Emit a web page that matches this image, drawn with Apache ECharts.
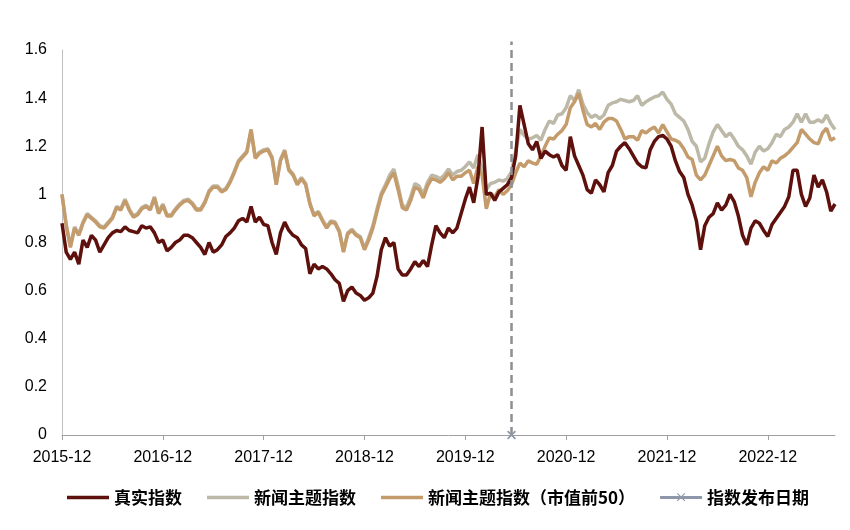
<!DOCTYPE html>
<html>
<head>
<meta charset="utf-8">
<script src="https://cdn.jsdelivr.net/npm/echarts/dist/echarts.min.js"></script>
<style>
html,body{margin:0;padding:0;background:#fff;}
#chart{width:850px;height:530px;}
</style>
</head>
<body>
<div id="chart"></div>
<script>
// x positions: half-month steps from 2015-12-01 to 2023-08-01
const startYear = 2015, startMonth = 12, monthCount = 92;
const categories = [];
for (let m = 0; m <= monthCount; m++) {
  const t = startMonth - 1 + m;
  const y = startYear + Math.floor(t / 12);
  const mm = String(t % 12 + 1).padStart(2, '0');
  categories.push(y + '-' + mm + '-01');
  if (m < monthCount) categories.push(y + '-' + mm + '-16');
}
const tickLabels = ['2015-12','2016-12','2017-12','2018-12','2019-12','2020-12','2021-12','2022-12'];
const publishDate = '2020-05-16';

const seriesNames = ['真实指数','新闻主题指数','新闻主题指数（市值前50）','指数发布日期'];

const realIndex = [
 0.88,0.76,0.73,0.76,0.71,0.81,0.78,0.83,0.81,0.76,0.79,0.82,0.84,0.85,0.845,0.865,0.85,0.845,0.84,0.87,0.86,0.865,0.84,0.80,0.81,
 0.765,0.78,0.80,0.81,0.83,0.83,0.82,0.80,0.78,0.75,0.80,0.76,0.77,0.79,0.825,0.84,0.86,0.89,0.90,0.885,0.95,0.885,0.905,0.875,
 0.87,0.80,0.75,0.84,0.885,0.85,0.83,0.82,0.79,0.775,0.67,0.71,0.69,0.70,0.69,0.67,0.645,0.63,0.555,0.60,0.615,0.59,0.58,0.56,
 0.57,0.59,0.66,0.77,0.82,0.785,0.80,0.69,0.665,0.665,0.69,0.72,0.70,0.725,0.70,0.79,0.87,0.84,0.82,0.86,0.84,0.86,0.92,0.98,
 1.03,0.965,1.07,1.28,1.0,1.005,0.975,1.01,1.025,1.04,1.07,1.16,1.37,1.29,1.21,1.185,1.22,1.15,1.18,1.165,1.155,1.165,1.12,1.10,
 1.24,1.16,1.12,1.08,1.02,1.005,1.06,1.04,1.01,1.09,1.12,1.18,1.20,1.215,1.19,1.16,1.13,1.115,1.11,1.185,1.22,1.24,1.245,1.23,
 1.20,1.14,1.095,1.07,1.0,0.955,0.89,0.77,0.87,0.905,0.92,0.965,0.935,0.955,1.0,0.97,0.91,0.83,0.79,0.86,0.89,0.88,0.85,0.825,
 0.875,0.90,0.925,0.95,0.99,1.10,1.10,1.0,0.95,0.985,1.08,1.03,1.06,1.01,0.93,0.96
];

const newsIndex = [
 1.0,0.875,0.785,0.865,0.835,0.885,0.92,0.905,0.89,0.87,0.865,0.885,0.905,0.95,0.94,0.98,0.94,0.91,0.92,0.945,0.955,0.94,0.99,0.925,0.96,
 0.915,0.915,0.94,0.96,0.975,0.98,0.965,0.94,0.94,0.97,1.015,1.035,1.035,1.015,1.025,1.055,1.095,1.14,1.16,1.18,1.265,1.155,1.175,1.185,
 1.19,1.155,1.045,1.145,1.185,1.105,1.085,1.045,1.07,1.045,0.965,0.915,0.93,0.895,0.865,0.89,0.885,0.85,0.765,0.84,0.855,0.835,0.825,0.775,
 0.82,0.87,0.94,1.005,1.04,1.08,1.105,1.035,0.955,0.945,0.99,1.045,1.035,1.0,1.05,1.08,1.075,1.065,1.08,1.105,1.08,1.095,1.10,1.115,
 1.135,1.11,1.165,1.10,1.02,1.045,1.05,1.06,1.055,1.065,1.095,1.18,1.27,1.245,1.23,1.235,1.245,1.225,1.27,1.305,1.295,1.33,1.335,1.36,
 1.41,1.39,1.435,1.375,1.34,1.32,1.33,1.315,1.33,1.37,1.38,1.385,1.395,1.39,1.385,1.39,1.41,1.37,1.385,1.395,1.405,1.41,1.425,1.395,
 1.375,1.335,1.32,1.305,1.27,1.22,1.20,1.135,1.15,1.21,1.26,1.29,1.265,1.24,1.255,1.23,1.20,1.185,1.16,1.125,1.175,1.20,1.18,1.19,
 1.215,1.25,1.24,1.27,1.28,1.30,1.335,1.30,1.335,1.30,1.30,1.31,1.30,1.33,1.295,1.27
];

const newsTop50Index = [
 1.0,0.87,0.78,0.86,0.83,0.88,0.915,0.90,0.885,0.865,0.86,0.88,0.90,0.945,0.935,0.975,0.935,0.905,0.915,0.94,0.95,0.935,0.985,0.92,0.955,
 0.91,0.91,0.935,0.955,0.97,0.975,0.96,0.935,0.935,0.965,1.01,1.03,1.03,1.01,1.02,1.05,1.09,1.135,1.155,1.175,1.27,1.15,1.17,1.18,
 1.185,1.15,1.04,1.14,1.18,1.10,1.08,1.04,1.065,1.04,0.96,0.91,0.925,0.89,0.86,0.885,0.88,0.845,0.76,0.835,0.85,0.83,0.82,0.77,
 0.81,0.86,0.93,0.995,1.03,1.065,1.09,1.02,0.945,0.935,0.975,1.03,1.02,0.985,1.035,1.065,1.06,1.05,1.065,1.09,1.06,1.075,1.075,1.09,
 1.10,1.045,1.115,1.08,0.94,1.005,0.99,1.02,1.0,1.015,1.04,1.09,1.13,1.115,1.14,1.13,1.125,1.16,1.20,1.235,1.23,1.25,1.265,1.29,
 1.36,1.385,1.42,1.35,1.29,1.28,1.295,1.27,1.30,1.315,1.315,1.305,1.27,1.23,1.24,1.24,1.225,1.265,1.255,1.27,1.28,1.255,1.29,1.26,
 1.23,1.225,1.215,1.19,1.155,1.145,1.08,1.06,1.08,1.12,1.16,1.20,1.16,1.14,1.145,1.14,1.11,1.10,1.07,0.99,1.05,1.09,1.115,1.10,
 1.14,1.13,1.15,1.16,1.175,1.195,1.215,1.27,1.25,1.23,1.215,1.21,1.255,1.275,1.225,1.235
];

const publishValue = 0;
const dashRange = [0, 1.635];

const axisFont = 'Liberation Sans, Arial, sans-serif';
const xPath = 'path://M0,1.3L1.3,0L5,3.7L8.7,0L10,1.3L6.3,5L10,8.7L8.7,10L5,6.3L1.3,10L0,8.7L3.7,5Z';
const barIcon = 'path://M0,0L0.01,0Z M0,5.2L42,5.2L42,8.8L0,8.8Z M42,14L41.99,14Z';
const barXIcon = 'path://M0,0L0.01,0Z M0,5.4L42,5.4L42,8.6L0,8.6Z M16.8,3.2L17.6,2.4L21,5.8L24.4,2.4L25.2,3.2L21.8,6.6L25.2,10L24.4,10.8L21,7.4L17.6,10.8L16.8,10L20.2,6.6Z M42,14L41.99,14Z';

const publishIdx = categories.indexOf(publishDate);
const publishData = categories.map((c, i) => i === publishIdx ? publishValue : null);
const dashData = dashRange.map(v => [publishIdx, v]);

function isTick(idx, val) {
  return val.endsWith('-01') && tickLabels.indexOf(val.slice(0, 7)) >= 0;
}

const chart = echarts.init(document.getElementById('chart'), null, {renderer: 'canvas'});
chart.setOption({
  animation: false,
  backgroundColor: '#fff',
  grid: {left: 62, right: 15, top: 50, bottom: 95, containLabel: false},
  xAxis: {
    type: 'category',
    data: categories,
    boundaryGap: false,
    axisLine: {show: true, lineStyle: {color: '#A0A0A0', width: 1}},
    axisTick: {show: true, interval: isTick, length: 5, lineStyle: {color: '#A0A0A0'}},
    axisLabel: {
      interval: isTick, margin: 15, color: '#000', fontSize: 16, fontFamily: axisFont,
      formatter: v => v.slice(0, 7)
    },
    splitLine: {show: false}
  },
  yAxis: {
    type: 'value', min: 0, max: 1.6, interval: 0.2,
    axisLine: {show: true, lineStyle: {color: '#C0C0C0', width: 1}},
    axisTick: {show: false},
    axisLabel: {margin: 15, color: '#000', fontSize: 16, fontFamily: axisFont},
    splitLine: {show: false}
  },
  legend: {
    data: [
      {name: seriesNames[0], icon: barIcon},
      {name: seriesNames[1], icon: barIcon},
      {name: seriesNames[2], icon: barIcon},
      {name: seriesNames[3], icon: barXIcon}
    ],
    left: 62, top: 484,
    itemWidth: 42, itemHeight: 14, itemGap: 25,
    textStyle: {fontSize: 17, color: '#000', fontFamily: 'Noto Sans CJK SC', fontWeight: 'bold'}
  },
  series: [
    {name: seriesNames[0], type: 'line', data: realIndex, symbol: 'none', z: 5,
     lineStyle: {color: '#5E100D', width: 3.5}, itemStyle: {color: '#5E100D'}},
    {name: seriesNames[1], type: 'line', data: newsIndex, symbol: 'none', z: 3,
     lineStyle: {color: '#BDB9A8', width: 3.5}, itemStyle: {color: '#BDB9A8'}},
    {name: seriesNames[2], type: 'line', data: newsTop50Index, symbol: 'none', z: 4,
     lineStyle: {color: '#C49B6B', width: 3.5}, itemStyle: {color: '#C49B6B'}},
    {name: 'publishLine', type: 'line', data: dashData, symbol: 'none', z: 6, clip: false,
     silent: true, lineStyle: {color: '#8C8F94', width: 2.5, type: [8, 5]}},
    {name: seriesNames[3], type: 'line', data: publishData, z: 7, clip: false,
     symbol: xPath, symbolSize: 9, showSymbol: true, showAllSymbol: true,
     lineStyle: {color: '#8E97A9', width: 3}, itemStyle: {color: '#8E97A9'}}
  ]
});
</script>
</body>
</html>
